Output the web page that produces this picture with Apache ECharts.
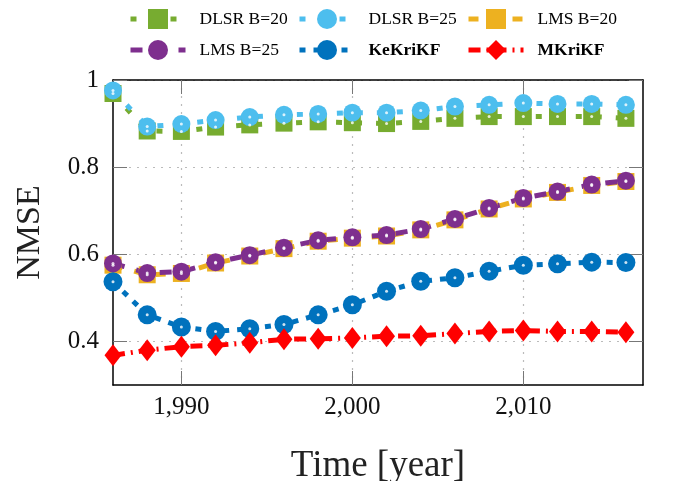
<!DOCTYPE html>
<html>
<head>
<meta charset="utf-8">
<script src="https://cdn.jsdelivr.net/npm/echarts@6/dist/echarts.min.js"></script>
<style>html,body{margin:0;padding:0;background:#fff}#c{width:682px;height:481px}</style>
</head>
<body>
<div id="c"></div>
<script>
const years = [1986,1988,1990,1992,1994,1996,1998,2000,2002,2004,2006,2008,2010,2012,2014,2016];
const dlsr20 = [0.969,0.883,0.882,0.892,0.897,0.901,0.904,0.902,0.900,0.905,0.912,0.916,0.916,0.916,0.916,0.912];
const dlsr25 = [0.976,0.893,0.899,0.908,0.915,0.920,0.922,0.925,0.925,0.930,0.939,0.943,0.947,0.945,0.945,0.943];
const lms20 = [0.575,0.553,0.556,0.580,0.596,0.613,0.630,0.637,0.642,0.656,0.679,0.704,0.727,0.742,0.758,0.767];
const lms25 = [0.579,0.557,0.560,0.582,0.598,0.615,0.632,0.639,0.644,0.658,0.681,0.706,0.729,0.744,0.760,0.769];
const kekrikf = [0.537,0.461,0.433,0.423,0.429,0.439,0.461,0.484,0.515,0.538,0.546,0.561,0.575,0.578,0.582,0.581];
const mkrikf = [0.368,0.380,0.388,0.391,0.397,0.405,0.406,0.408,0.412,0.413,0.418,0.423,0.425,0.423,0.423,0.421];
const xTicks = [1990,2000,2010];
const yTicks = [0.4,0.6,0.8,1];

const FONT = 'Liberation Serif';
const pair = arr => years.map((y,i)=>[y,arr[i]]);

const defs = [
  {name:'DLSR B=20', data:dlsr20, color:'#77AC30', symbol:'rect', size:17, dash:[6,14], bold:false},
  {name:'DLSR B=25', data:dlsr25, color:'#4DBEEE', symbol:'circle', size:18, dash:[6,14], bold:false},
  {name:'LMS B=20', data:lms20, color:'#EDB120', symbol:'rect', size:17, dash:[10,12], bold:false},
  {name:'LMS B=25', data:lms25, color:'#7E2F8E', symbol:'circle', size:18, dash:[12,12], bold:false},
  {name:'KeKriKF', data:kekrikf, color:'#0072BD', symbol:'circle', size:19, dash:[6,8], bold:true},
  {name:'MKriKF', data:mkrikf, color:'#FF0000', symbol:'diamond', size:[17,22], dash:[12,6,2,6], bold:true}
];

const series = [];
defs.forEach(d=>{
  series.push({
    name:d.name, type:'line', data:pair(d.data),
    symbol:d.symbol, symbolSize:d.size, showSymbol:true,
    itemStyle:{color:d.color},
    lineStyle:{color:d.color, width:5, type:d.dash},
    animation:false
  });
});
defs.forEach(d=>{
  if (d.symbol==='diamond') return;
  series.push({
    name:d.name+'_dot', type:'scatter', data:pair(d.data),
    symbol:'circle', symbolSize:3, itemStyle:{color:'#fff'}, silent:true, animation:false, z:3
  });
});

const legPos = [[128,9],[297,9],[466,9],[128,40],[297,40],[466,40]];
const legends = defs.map((d,i)=>({
  data:[d.name], left:legPos[i][0], top:legPos[i][1], itemWidth:55, itemHeight:25,
  padding:0, selectedMode:false,
  lineStyle:{width:5},
  textStyle:{fontFamily:FONT, fontSize:17.5, color:'#000', fontWeight:d.bold?'bold':'normal', padding:[0,0,0,9]}
}));

const chart = echarts.init(document.getElementById('c'));
chart.setOption({
  animation:false,
  legend:legends,
  grid:{left:113, right:39, top:80, bottom:96, outerBoundsMode:'none', containLabel:false},
  xAxis:[{
    type:'value', min:1986, max:2017, position:'bottom',
    name:'Time [year]', nameLocation:'middle', nameGap:63,
    nameTextStyle:{fontFamily:FONT, fontSize:37, color:'#222'},
    axisLine:{show:true, lineStyle:{color:'#000', width:1.5}},
    axisTick:{show:true, inside:true, length:14, lineStyle:{color:'#777'}, customValues:xTicks},
    axisLabel:{fontFamily:FONT, fontSize:25, color:'#111', margin:10, customValues:xTicks,
      formatter:v=>String(v).replace(/(\d)(\d{3})$/,'$1,$2')},
    splitLine:{show:true, lineStyle:{color:'#bbb', type:[2,6], width:1.2}}
  },{
    type:'value', min:1986, max:2017, position:'top',
    axisLine:{show:true, lineStyle:{color:'#000', width:1.5}},
    axisTick:{show:true, inside:true, length:14, lineStyle:{color:'#777'}, customValues:xTicks},
    axisLabel:{show:false, customValues:xTicks},
    splitLine:{show:false}
  }],
  yAxis:[{
    type:'value', min:0.3, max:1, position:'left',
    name:'NMSE', nameLocation:'middle', nameGap:66,
    nameTextStyle:{fontFamily:FONT, fontSize:34, color:'#222'},
    axisLine:{show:true, lineStyle:{color:'#000', width:1.5}},
    axisTick:{show:true, inside:true, length:14, lineStyle:{color:'#777'}, customValues:yTicks},
    axisLabel:{fontFamily:FONT, fontSize:25, color:'#111', margin:14, customValues:yTicks,
      formatter:v=>String(+v.toFixed(2))},
    splitLine:{show:true, lineStyle:{color:'#bbb', type:[2,6], width:1.2}}
  },{
    type:'value', min:0.3, max:1, position:'right',
    axisLine:{show:true, lineStyle:{color:'#000', width:1.5}},
    axisTick:{show:true, inside:true, length:14, lineStyle:{color:'#777'}, customValues:yTicks},
    axisLabel:{show:false, customValues:yTicks},
    splitLine:{show:false}
  }],
  series:series
});
</script>
</body>
</html>
